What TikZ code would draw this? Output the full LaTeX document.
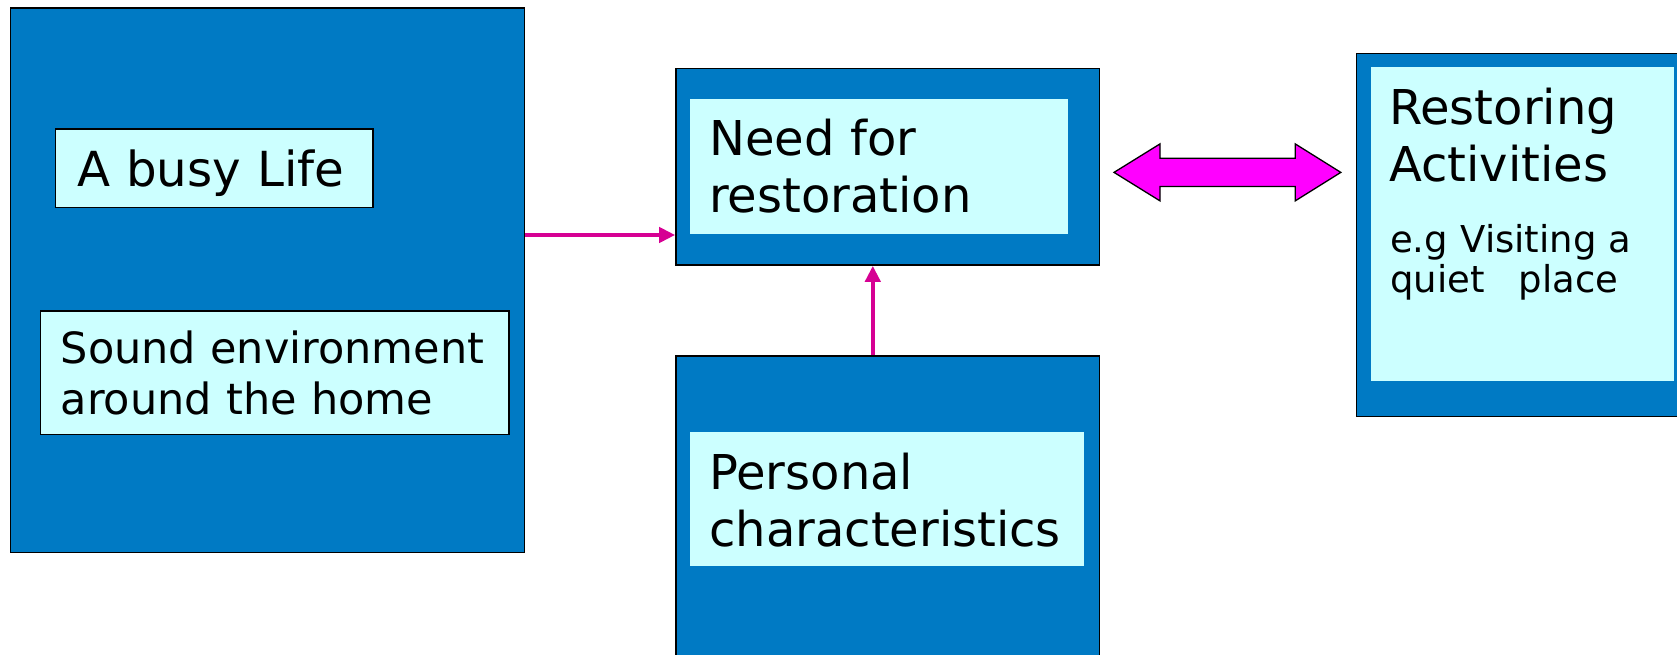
\documentclass[tikz,border=0pt]{standalone}
\usepackage{fontspec}
\setmainfont{DejaVu Sans}
\usetikzlibrary{arrows.meta}

\definecolor{panelblue}{RGB}{0,122,196}
\definecolor{paleaqua}{RGB}{204,255,255}
\definecolor{linkpink}{RGB}{214,0,147}
\definecolor{brightmagenta}{RGB}{255,0,255}

\begin{document}
\begin{tikzpicture}[x=1pt,y=1pt,
  panel/.style={rectangle, draw=black, line width=1.6pt, fill=panelblue, inner sep=0pt},
  card/.style={rectangle, fill=paleaqua, inner sep=0pt},
  framedcard/.style={card, draw=black, line width=1.4pt},
  boxtext/.style={anchor=base west, inner sep=0pt, text width=#1, align=left},
  link/.style={draw=linkpink, line width=4.5pt, -{Triangle[length=16pt,width=15pt]}},
  blockarrow/.style={draw=black, line width=1.3pt, fill=brightmagenta, line join=miter}]

\useasboundingbox (0,0) rectangle (1677,655);
\clip (0,0) rectangle (1677,655);

% left column: everyday influences
\node[panel, minimum width=514pt, minimum height=544.4pt] (leftbox) at (267.5,374.5) {};
\node[framedcard, minimum width=317.4pt, minimum height=78.5pt] (busybox) at (214.3,486.75) {};
\node[boxtext=300pt, font=\fontsize{48.3}{58}\selectfont] (busytxt) at (76.8,468.3) {A busy Life};
\node[framedcard, minimum width=468.4pt, minimum height=123.7pt] (soundbox) at (274.8,282.15) {};
\node[boxtext=445pt, font=\fontsize{43}{51}\selectfont] (soundtxt) at (60.5,291) {Sound environment\\around the home};

% centre column
\node[panel, minimum width=423.5pt, minimum height=196.5pt] (needout) at (887.75,488.25) {};
\node[card, minimum width=378pt, minimum height=134.7pt] (needin) at (879,488.35) {};
\node[boxtext=350pt, font=\fontsize{48}{57}\selectfont] (needtxt) at (709,499.3) {Need for\\restoration};

\node[panel, minimum width=423.5pt, minimum height=349pt] (persout) at (887.75,124.5) {};
\node[card, minimum width=393.5pt, minimum height=134.5pt] (persin) at (886.75,155.75) {};
\node[boxtext=370pt, font=\fontsize{48}{57}\selectfont] (perstxt) at (709,165.3) {Personal\\characteristics};

% right column
\node[panel, minimum width=343.5pt, minimum height=363pt] (restout) at (1528.25,420) {};
\node[card, minimum width=303pt, minimum height=314.5pt] (restin) at (1522.5,430.75) {};
\node[boxtext=280pt, font=\fontsize{48}{56.7}\selectfont] (resttxt) at (1389,530) {Restoring\\Activities};
\node[boxtext=280pt, font=\fontsize{37}{40}\selectfont] (egtxt) at (1390,402.3) {e.g Visiting a\\quiet\hspace{34pt}place};

% connectors
\coordinate (hlevel) at (0,420);
\draw[link] (leftbox.east |- hlevel) -- (needout.west |- hlevel);
\coordinate (vline) at (872.8,0);
\draw[link] (vline |- persout.north) -- (vline |- needout.south);

% two-way block arrow between need and activities
\coordinate (dblc) at (1227.4,482.6);
\begin{scope}[shift={(dblc)}]
  \draw[blockarrow] (-113.4,0) -- (-67.4,28.5) -- (-67.4,14.2) -- (67.8,14.2)
    -- (67.8,28.5) -- (113.4,0) -- (67.8,-28.5) -- (67.8,-14.2)
    -- (-67.4,-14.2) -- (-67.4,-28.5) -- cycle;
\end{scope}

\end{tikzpicture}
\end{document}
